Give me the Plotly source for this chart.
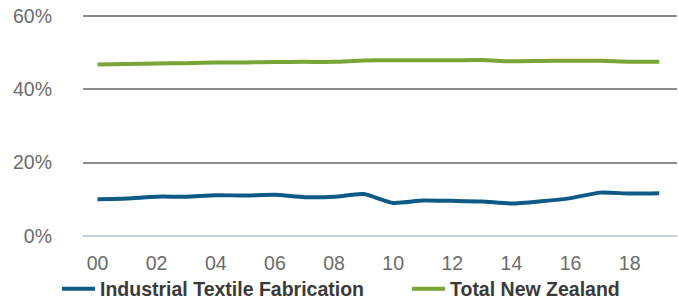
import plotly.graph_objects as go

years = list(range(2000, 2020))
tick_vals = list(range(2000, 2019, 2))
tick_text = ["00", "02", "04", "06", "08", "10", "12", "14", "16", "18"]
y_tick_vals = [0, 20, 40, 60]
y_tick_text = ["0%", "20%", "40%", "60%"]
industrial = [10.0, 10.2, 10.7, 10.7, 11.1, 11.0, 11.2, 10.55, 10.65, 11.4,
              9.0, 9.65, 9.55, 9.4, 8.85, 9.45, 10.3, 11.8, 11.55, 11.65]
total_nz = [46.75, 46.85, 47.0, 47.1, 47.25, 47.3, 47.4, 47.45, 47.45, 47.8,
            47.9, 47.9, 47.9, 47.95, 47.6, 47.7, 47.75, 47.75, 47.5, 47.5]

fig = go.Figure()
fig.add_trace(go.Scatter(x=years, y=industrial, mode="lines",
                         name="Industrial Textile Fabrication", legend="legend",
                         line=dict(color="#0d5a87", width=4, shape="spline", smoothing=0.6)))
fig.add_trace(go.Scatter(x=years, y=total_nz, mode="lines",
                         name="Total New Zealand", legend="legend2",
                         line=dict(color="#79a436", width=4, shape="spline", smoothing=0.6)))

legend_font = dict(size=19.5, color="#3a3a3a", family="Liberation Sans, Arial, sans-serif", weight="bold")

fig.update_layout(
    width=678, height=300,
    margin=dict(l=83, r=1, t=14, b=63, autoexpand=False),
    paper_bgcolor="white", plot_bgcolor="white",
    font=dict(family="Liberation Sans, Arial, sans-serif", color="#6b6b6b"),
    showlegend=True,
    legend=dict(orientation="h", xref="container", yref="container",
                x=57 / 678, xanchor="left", y=1 - 289 / 300, yanchor="middle",
                font=legend_font, itemwidth=33, bgcolor="rgba(0,0,0,0)"),
    legend2=dict(orientation="h", xref="container", yref="container",
                 x=407 / 678, xanchor="left", y=1 - 289 / 300, yanchor="middle",
                 font=legend_font, itemwidth=33, bgcolor="rgba(0,0,0,0)"),
    xaxis=dict(range=[1999.51, 2019.6], tickvals=tick_vals, ticktext=tick_text,
               showgrid=False, zeroline=False, showline=False, ticks="",
               ticklabelstandoff=12, automargin=False,
               tickfont=dict(size=19.5, color="#6b6b6b")),
    yaxis=dict(range=[-0.3, 60.5], tickvals=y_tick_vals, ticktext=y_tick_text,
               showgrid=True, gridcolor="#8c8c8c", gridwidth=2,
               zeroline=True, zerolinecolor="#c9d1dd", zerolinewidth=2,
               showline=False, ticks="", ticklabelstandoff=30, automargin=False,
               tickfont=dict(size=19.5, color="#6b6b6b")),
)

fig.write_html("out.html", config={"displayModeBar": False},
               post_script="document.body.style.margin='0';")
